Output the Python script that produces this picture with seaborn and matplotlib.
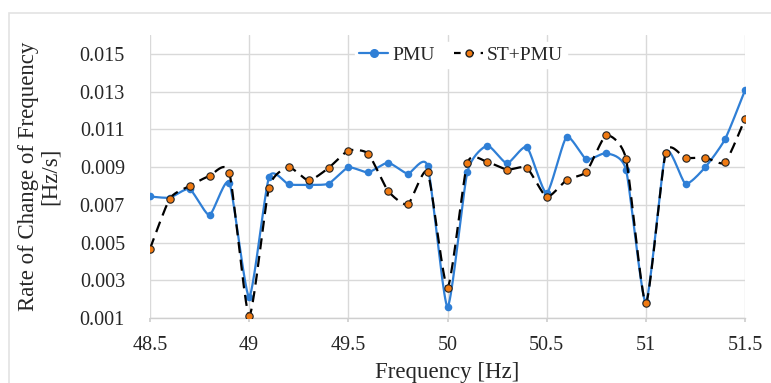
import numpy as np
import pandas as pd
import seaborn as sns
import matplotlib.pyplot as plt
from matplotlib.lines import Line2D
from matplotlib.patches import Rectangle

# data
freq = [48.5, 48.6, 48.7, 48.8, 48.9, 49.0, 49.1, 49.2, 49.3, 49.4, 49.5,
        49.6, 49.7, 49.8, 49.9, 50.0, 50.1, 50.2, 50.3, 50.4, 50.5,
        50.6, 50.7, 50.8, 50.9, 51.0, 51.1, 51.2, 51.3, 51.4, 51.5]
pmu = [0.00744, 0.00738, 0.00783, 0.00646, 0.00817, 0.00212, 0.00847, 0.00808,
       0.00806, 0.00812, 0.00898, 0.00872, 0.00923, 0.00865, 0.00905, 0.00160,
       0.00873, 0.01013, 0.00920, 0.01006, 0.00762, 0.01059, 0.00941, 0.00973,
       0.00886, 0.00183, 0.00976, 0.00812, 0.00900, 0.01049, 0.01307]
st_pmu = [0.00467, 0.00733, 0.00800, 0.00853, 0.00870, 0.00112, 0.00790, 0.00898,
          0.00829, 0.00895, 0.00987, 0.00971, 0.00774, 0.00702, 0.00873, 0.00261,
          0.00921, 0.00927, 0.00886, 0.00896, 0.00742, 0.00831, 0.00875, 0.01068,
          0.00944, 0.00178, 0.00976, 0.00948, 0.00950, 0.00925, 0.01155]
series_names = ["PMU", "ST+PMU"]
x_ticks = [48.5, 49, 49.5, 50, 50.5, 51, 51.5]
x_tick_labels = ["48.5", "49", "49.5", "50", "50.5", "51", "51.5"]
y_ticks = [0.001, 0.003, 0.005, 0.007, 0.009, 0.011, 0.013, 0.015]

BLUE = "#2f7fd6"
ORANGE = "#f07a12"
GRID = "#d9d9d9"


def smooth(x, y, n=20, k=1 / 10):
    """Smoothed line drawn through the points (bezier, Excel-like)."""
    x = np.asarray(x, float)
    y = np.asarray(y, float)
    px = np.concatenate([[x[0]], x, [x[-1]]])
    py = np.concatenate([[y[0]], y, [y[-1]]])
    t = np.linspace(0, 1, n, endpoint=False)[:, None]
    xs, ys = [], []
    for i in range(1, len(px) - 2):
        p0 = np.array([px[i], py[i]])
        p3 = np.array([px[i + 1], py[i + 1]])
        c1 = p0 + (p3 - np.array([px[i - 1], py[i - 1]])) * k
        c2 = p3 - (np.array([px[i + 2], py[i + 2]]) - p0) * k
        b = ((1 - t) ** 3) * p0 + 3 * ((1 - t) ** 2) * t * c1 + 3 * (1 - t) * t ** 2 * c2 + t ** 3 * p3
        xs.append(b[:, 0])
        ys.append(b[:, 1])
    xs.append([x[-1]])
    ys.append([y[-1]])
    return np.concatenate(xs), np.concatenate(ys)


sns.set_theme(style="white")
plt.rcParams["font.family"] = ["Liberation Serif", "DejaVu Serif"]

fig = plt.figure(figsize=(7.71, 3.83), dpi=100)
ax = fig.add_axes([150 / 771, 1 - 318 / 383, 595 / 771, 283 / 383])

# chart border (cut off at right and bottom in the reference)
fig.patches.append(Rectangle((9 / 771, -0.05), 1.1, 1 - 13 / 383 + 0.05,
                             transform=fig.transFigure, fill=False,
                             edgecolor="#e3e3e3", linewidth=1.2))

# PMU smooth line
sx, sy = smooth(freq, pmu)
sns.lineplot(x=sx, y=sy, sort=False, ax=ax, color=BLUE, linewidth=1.6, zorder=3)
sns.scatterplot(x=freq, y=pmu, ax=ax, color=BLUE, s=30, edgecolor=BLUE,
                linewidth=0, zorder=4)

# ST+PMU dashed smooth line
sx2, sy2 = smooth(freq, st_pmu)
sns.lineplot(x=sx2, y=sy2, sort=False, ax=ax, color="black", linewidth=1.6,
             zorder=5)
ax.lines[-1].set_dashes([5, 3])
sns.scatterplot(x=freq, y=st_pmu, ax=ax, color=ORANGE, s=28, edgecolor="#222222",
                linewidth=0.8, zorder=6)

ax.set_xlim(48.5, 51.5)
ax.set_ylim(0.001, 0.016)
ax.set_xticks(x_ticks)
ax.set_xticklabels(x_tick_labels)
ax.set_yticks(y_ticks)
ax.set_yticklabels([f"{v:.3f}" for v in y_ticks])
ax.grid(True, color=GRID, linewidth=1.0)
ax.set_axisbelow(True)
for side in ["top", "right", "left"]:
    ax.spines[side].set_visible(False)
ax.spines["bottom"].set_color("#cfcfcf")
ax.spines["bottom"].set_linewidth(1.0)
ax.tick_params(axis="x", length=3, color="#cfcfcf", pad=10, labelsize=14.5, bottom=True)
ax.tick_params(axis="y", length=0, pad=18, labelsize=14.5)

ax.set_xlabel("Frequency [Hz]", fontsize=16.5, labelpad=5)
ax.set_ylabel("Rate of Change of Frequency\n[Hz/s]", fontsize=16.5, labelpad=14,
              linespacing=1.0)

handles = [
    Line2D([0], [0], color=BLUE, linewidth=1.6, marker="o", markersize=5.5,
           markerfacecolor=BLUE, markeredgecolor=BLUE),
    Line2D([0], [0], color="black", linewidth=1.6, linestyle=(0, (3, 3)), marker="o",
           markersize=5, markerfacecolor=ORANGE, markeredgecolor="#222222"),
]
leg = ax.legend(handles, series_names, loc="center", bbox_to_anchor=(0.523, 0.929),
                ncol=2, frameon=True, fancybox=False, framealpha=1, edgecolor="white",
                fontsize=14, handlelength=1.5, handletextpad=0.2, columnspacing=1.0,
                borderpad=0.2)

fig.savefig("out.png", dpi=100)
